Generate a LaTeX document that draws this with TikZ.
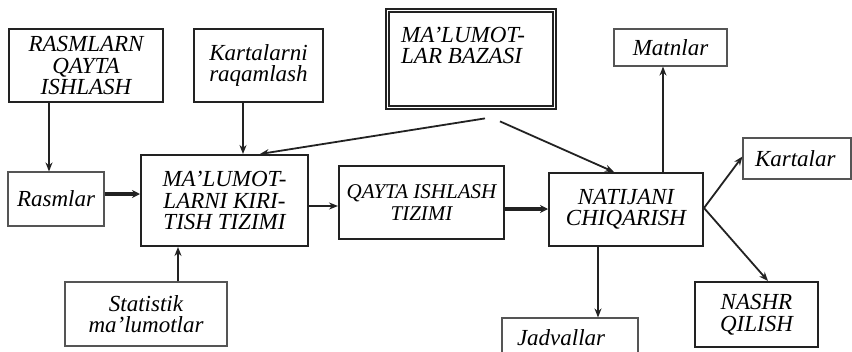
\documentclass[tikz,border=0pt]{standalone}
\usepackage{fontspec}
\setmainfont{Liberation Serif}
\usepackage{tikz}
\usetikzlibrary{arrows.meta, positioning, calc}
\definecolor{inkgray}{RGB}{34, 34, 34}
\definecolor{framegray}{RGB}{85, 85, 85}

\begin{document}
\begin{tikzpicture}[x=1pt, y=-1pt, >=Stealth,
    font=\itshape\fontsize{23}{21.5}\selectfont,
    boxthick/.style={draw=inkgray, line width=2pt, inner sep=3pt, align=center},
    boxthin/.style={draw=framegray, line width=1.1pt, inner sep=3pt, align=center},
    conn/.style={draw=inkgray, line width=1.8pt, -{Stealth[length=9pt, width=7pt]}},
    fatconn/.style={draw=inkgray, line width=3.6pt, -{Stealth[length=8pt, width=8pt, open, fill=white]}}]
      \useasboundingbox (0,0) rectangle (852,351);
      \node[boxthick, minimum width=154pt, minimum height=73pt] (rql) at (86,65.5) {RASMLARN\\QAYTA\\ISHLASH};
      \node[boxthick, minimum width=129pt, minimum height=73pt] (kar) at (258.5,65.5) {Kartalarni\\raqamlash};
      \node[draw=inkgray, line width=1.8pt, double, double distance=1.2pt, minimum width=167pt, minimum height=97pt] (db) at (471,59) {};
      \node[anchor=north west, align=left, inner sep=0pt] (dbtext) at (401,27) {MA’LUMOT-\\LAR BAZASI};
      \node[boxthin, minimum width=113pt, minimum height=37pt] (mat) at (670.5,47.5) {Matnlar};
      \node[boxthin, align=left, text width=84pt, inner xsep=12pt, minimum height=41pt] (krt) at (797,158.5) {Kartalar};
      \node[boxthin, minimum width=96pt, minimum height=54pt] (ras) at (56,199) {Rasmlar};
      \node[boxthick, minimum width=167pt, minimum height=91pt] (kir) at (224.5,200.5) {MA’LUMOT-\\LARNI KIRI-\\TISH TIZIMI};
      \node[boxthick, minimum width=165pt, minimum height=73pt, font=\itshape\fontsize{21}{21.5}\selectfont] (qis) at (421.5,202.5) {QAYTA ISHLASH\\TIZIMI};
      \node[boxthick, minimum width=154pt, minimum height=73pt] (nat) at (626,209.5) {NATIJANI\\CHIQARISH};
      \node[boxthin, minimum width=162pt, minimum height=64pt] (sta) at (146,314) {Statistik\\ma’lumotlar};
      \node[boxthin, align=left, text width=106pt, inner xsep=15pt, minimum height=40pt] (jad) at (570,338) {Jadvallar};
      \node[boxthick, minimum width=123pt, minimum height=65pt] (nas) at (756.5,314.5) {NASHR\\QILISH};
      % kirish
      \draw[conn] ([xshift=-37pt]rql.south) -- ([xshift=-7pt]ras.north);
      \draw[conn] ([xshift=-15.5pt]kar.south) -- ([xshift=18.5pt]kir.north);
      \draw[conn] ([xshift=14pt, yshift=-10pt]db.south) -- ([xshift=35.5pt]kir.north);
      \draw[conn] ([xshift=29pt, yshift=-13pt]db.south) -- ([xshift=-12pt]nat.north);
      \draw[fatconn] ([yshift=5pt]ras.east) -- ([yshift=5pt]ras.east -| kir.west);
      \draw[conn] ([xshift=32pt]sta.north) -- ([xshift=32pt]sta.north |- kir.south);
      % ishlash
      \draw[conn] ([yshift=-5.5pt]kir.east) -- ([yshift=-5.5pt]kir.east -| qis.west);
      \draw[fatconn] ([yshift=-6.5pt]qis.east) -- ([yshift=-6.5pt]qis.east -| nat.west);
      % chiqarish
      \draw[conn] ([xshift=37pt]nat.north) -- ([xshift=37pt]nat.north |- mat.south);
      \draw[conn] ([yshift=1.5pt]nat.east) -- ([yshift=2pt]krt.west);
      \draw[conn] ([yshift=1.5pt]nat.east) -- ([xshift=11.5pt]nas.north);
      \draw[conn] ([xshift=-28pt]nat.south) -- ([xshift=-28pt]nat.south |- jad.north);
    \end{tikzpicture}
\end{document}
